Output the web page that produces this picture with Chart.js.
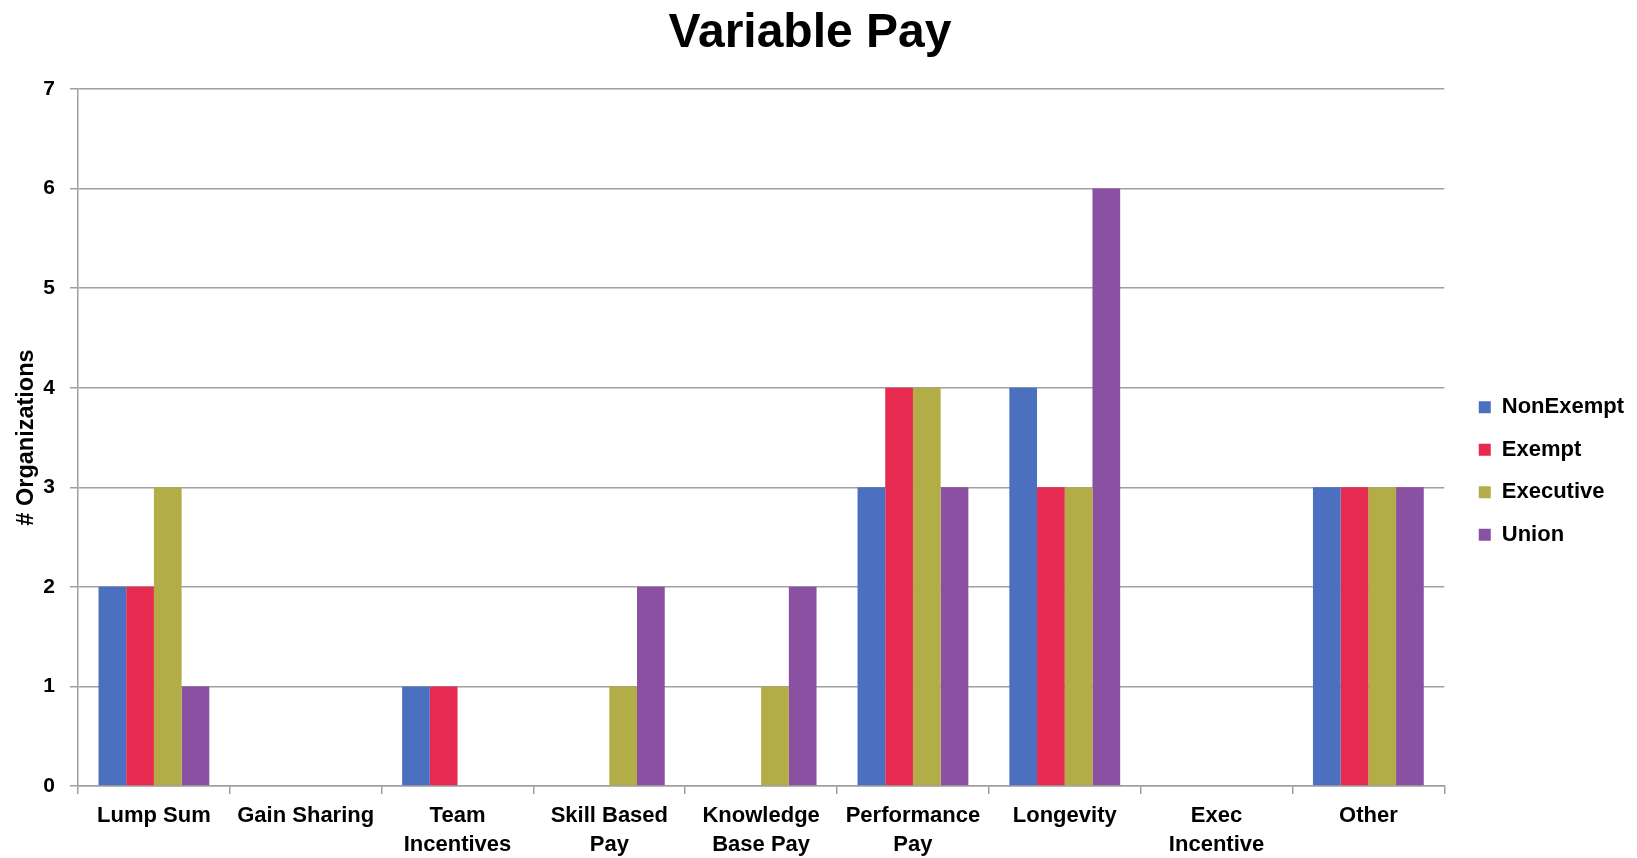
<!DOCTYPE html>
<html>
<head>
<meta charset="utf-8">
<script src="https://cdn.jsdelivr.net/npm/chart.js@4/dist/chart.umd.min.js"></script>
<style>
  html, body { margin: 0; padding: 0; background: #ffffff; }
  #wrap { width: 1637px; height: 858px; }
</style>
</head>
<body>
<div id="wrap"><canvas id="c" width="1637" height="858"></canvas></div>
<script>
const categories = ["Lump Sum", "Gain Sharing", ["Team", "Incentives"], ["Skill Based", "Pay"], ["Knowledge", "Base Pay"], ["Performance", "Pay"], "Longevity", ["Exec", "Incentive"], "Other"];
const nonExempt = [2, 0, 1, 0, 0, 3, 4, 0, 3];
const exempt    = [2, 0, 1, 0, 0, 4, 3, 0, 3];
const executive = [3, 0, 0, 1, 1, 4, 3, 0, 3];
const union     = [1, 0, 0, 2, 2, 3, 6, 0, 3];
const yTicks = [0, 1, 2, 3, 4, 5, 6, 7];

const FONT = "'Liberation Sans', Arial, sans-serif";
const GRID = '#a0a0a0';

const legendShift = {
  id: 'legendShift',
  afterLayout(chart) {
    const lg = chart.legend;
    if (!lg) return;
    const dx = 14, dy = 42;
    lg.left += dx; lg.right += dx;
    lg.top += dy; lg.bottom += dy;
  }
};

new Chart(document.getElementById('c'), {
  type: 'bar',
  data: {
    labels: categories,
    datasets: [
      { label: 'NonExempt', data: nonExempt, backgroundColor: '#4a70bf' },
      { label: 'Exempt', data: exempt, backgroundColor: '#e62a50' },
      { label: 'Executive', data: executive, backgroundColor: '#b2ad47' },
      { label: 'Union', data: union, backgroundColor: '#8a50a2' }
    ]
  },
  options: {
    responsive: false,
    animation: false,
    devicePixelRatio: 1,
    layout: { padding: { left: 0, right: 17, top: 0, bottom: 0 } },
    datasets: { bar: { categoryPercentage: 0.73, barPercentage: 1.0, borderWidth: 0 } },
    plugins: {
      title: {
        display: true,
        text: 'Variable Pay',
        color: '#000',
        font: { family: FONT, size: 48, weight: 'bold', lineHeight: 1.2 },
        padding: { top: 5, bottom: 26.4 }
      },
      legend: {
        position: 'right',
        fullSize: true,
        labels: {
          color: '#000',
          font: { family: FONT, size: 22, weight: 'bold' },
          boxWidth: 12,
          boxHeight: 12,
          padding: 20.5
        }
      },
      tooltip: { enabled: false }
    },
    scales: {
      x: {
        grid: {
          display: true,
          offset: true,
          drawOnChartArea: false,
          drawTicks: true,
          tickLength: 8,
          color: GRID,
          lineWidth: 1.5
        },
        border: { display: true, color: GRID, width: 1.5 },
        ticks: {
          color: '#000',
          font: { family: FONT, size: 22, weight: 'bold', lineHeight: 1.3 },
          padding: 8,
          maxRotation: 0,
          autoSkip: false
        },
        afterFit(scale) { scale.height = 72; }
      },
      y: {
        min: 0,
        max: 7,
        afterBuildTicks(scale) { scale.ticks = yTicks.map(v => ({ value: v })); },
        grid: {
          color: GRID,
          lineWidth: 1.5,
          drawTicks: true,
          tickLength: 8
        },
        border: { display: true, color: GRID, width: 1.5 },
        ticks: {
          color: '#000',
          font: { family: FONT, size: 21, weight: 'bold' },
          padding: 15
        },
        title: {
          display: true,
          text: '# Organizations',
          color: '#000',
          font: { family: FONT, size: 23.5, weight: 'bold', lineHeight: 1.2 },
          padding: { top: 12, bottom: 4 }
        },
        afterFit(scale) { scale.width = 78; }
      }
    }
  },
  plugins: [legendShift]
});
</script>
</body>
</html>
